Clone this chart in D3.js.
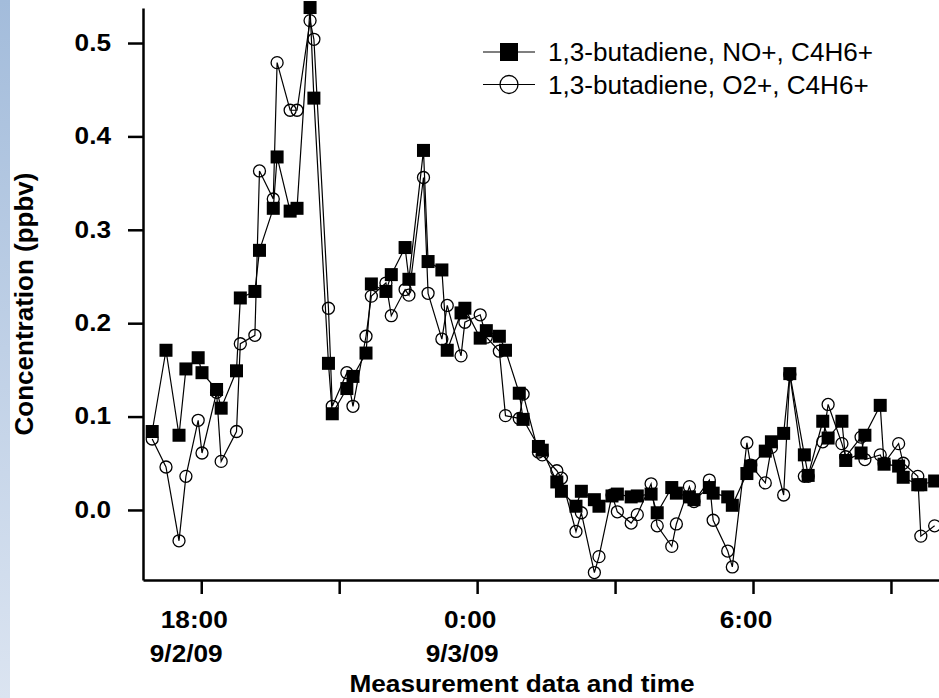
<!DOCTYPE html>
<html>
<head>
<meta charset="utf-8">
<script src="https://cdn.jsdelivr.net/npm/d3@7"></script>
<style>
  html, body { margin: 0; padding: 0; background: #fff; }
  svg { display: block; font-family: "Liberation Sans", Arial, sans-serif; }
</style>
</head>
<body>
<div id="chart"></div>
<script>
// sample times (9/2/09 afternoon through 9/3/09 morning)
const sampleTimes = [
  "16:56","17:14","17:31","17:40","17:56","18:01","18:20","18:26","18:46","18:51",
  "19:10","19:16","19:34","19:39","19:56","20:05","20:22","20:27","20:46","20:51",
  "21:10","21:18","21:35","21:42","22:01","22:08","22:26","22:31","22:50","22:56",
  "23:14","23:21","23:39","23:44","0:04","0:12","0:29","0:37","0:55","1:00",
  "1:20","1:25","1:44","1:50","2:09","2:16","2:33","2:39","2:56","3:03",
  "3:21","3:29","3:47","3:55","4:14","4:20","4:37","4:43","5:03","5:08",
  "5:27","5:33","5:52","5:57","6:16","6:24","6:40","6:48","7:07","7:12",
  "7:31","7:38","7:56","8:01","8:21","8:26","8:46","8:51","9:10","9:16",
  "9:35","9:39","9:57"
];

// 1,3-butadiene, NO+, C4H6+ (ppbv)
const noPlus = [
  0.084,0.171,0.080,0.151,0.163,0.147,0.129,0.109,0.149,0.227,
  0.234,0.278,0.323,0.378,0.320,0.323,0.538,0.441,0.157,0.103,
  0.130,0.143,0.168,0.242,0.234,0.252,0.281,0.247,0.385,0.266,
  0.257,0.171,0.211,0.216,0.184,0.192,0.186,0.171,0.125,0.097,
  0.068,0.064,0.030,0.020,0.004,0.020,0.011,0.004,0.015,0.017,
  0.014,0.015,0.017,-0.003,0.024,0.018,0.014,0.011,0.024,0.018,
  0.014,0.005,0.039,0.047,0.063,0.073,0.082,0.146,0.059,0.037,
  0.095,0.077,0.095,0.053,0.061,0.080,0.112,0.049,0.047,0.035,
  0.027,0.027,0.031
];

// 1,3-butadiene, O2+, C4H6+ (ppbv)
const o2Plus = [
  0.076,0.046,-0.033,0.036,0.096,0.061,0.126,0.052,0.084,0.178,
  0.187,0.363,0.333,0.479,0.428,0.428,0.524,0.504,0.216,0.111,
  0.147,0.111,0.186,0.229,0.243,0.208,0.236,0.230,0.356,0.232,
  0.183,0.219,0.165,0.201,0.209,0.185,0.170,0.101,0.098,0.124,
  0.062,0.059,0.042,0.034,-0.023,-0.003,-0.067,-0.050,0.016,-0.002,
  -0.014,-0.005,0.028,-0.017,-0.039,-0.015,0.025,0.009,0.032,-0.011,
  -0.044,-0.061,0.072,0.048,0.029,0.067,0.016,0.145,0.036,0.036,
  0.073,0.113,0.071,0.057,0.078,0.054,0.059,0.050,0.071,0.050,
  0.036,-0.028,-0.017
];

const seriesLabels = ["1,3-butadiene, NO+, C4H6+", "1,3-butadiene, O2+, C4H6+"];
const yTicks = [0, 0.1, 0.2, 0.3, 0.4, 0.5];
const labelTimes = ["18:00", "0:00", "6:00"];
const labelDates = ["9/2/09", "9/3/09", ""];
const xDomain = ["16:44", "10:04"];

// the original glyphs are a little wider than Liberation Sans
const stretch = 1.14;

// times before noon belong to the next day
function toDate(s) {
  const p = s.split(':').map(Number);
  return new Date(2009, 8, p[0] < 12 ? 3 : 2, p[0], p[1]);
}

const width = 939, height = 698;
const svg = d3.select('#chart').append('svg')
  .attr('width', width)
  .attr('height', height);

// blue strip down the left edge
const grad = svg.append('defs').append('linearGradient')
  .attr('id', 'strip').attr('x1', 0).attr('y1', 0).attr('x2', 0).attr('y2', 1);
grad.append('stop').attr('offset', '0%').attr('stop-color', '#a3bcdb');
grad.append('stop').attr('offset', '100%').attr('stop-color', '#dbe4f1');
svg.append('rect').attr('x', 0).attr('y', 0).attr('width', 10).attr('height', height)
  .attr('fill', 'url(#strip)');

const x = d3.scaleTime()
  .domain(xDomain.map(toDate))
  .range([143, 940]);
const y = d3.scaleLinear()
  .domain([-0.075, 0.5375])
  .range([580, 8]);

// x axis: tick every 3 h, labels only on some
const xAxis = svg.append('g')
  .attr('transform', 'translate(0,580)')
  .call(d3.axisBottom(x).ticks(d3.timeHour.every(3)).tickSize(14).tickSizeOuter(0).tickFormat(''));
xAxis.select('.domain').attr('stroke-width', 2.5);
xAxis.selectAll('.tick line').attr('stroke-width', 2.5);

labelTimes.forEach((t, i) => {
  const px = x(toDate(t));
  svg.append('text')
    .attr('transform', 'translate(' + (px - 7) + ',628) scale(' + stretch + ',1)')
    .attr('text-anchor', 'middle')
    .attr('font-weight', 'bold').attr('font-size', 23)
    .text(t);
  if (labelDates[i]) {
    svg.append('text')
      .attr('transform', 'translate(' + (px - 15) + ',662) scale(' + stretch + ',1)')
      .attr('text-anchor', 'middle')
      .attr('font-weight', 'bold').attr('font-size', 23)
      .text(labelDates[i]);
  }
});

const yAxis = svg.append('g')
  .attr('transform', 'translate(143,0)')
  .call(d3.axisLeft(y).tickValues(yTicks).tickFormat(d3.format('.1f'))
    .tickSize(15).tickSizeOuter(0));
yAxis.select('.domain').attr('stroke-width', 2.5);
yAxis.selectAll('.tick line').attr('stroke-width', 2.5);
yAxis.selectAll('.tick text')
  .attr('x', 0)
  .attr('transform', 'translate(-32,0) scale(' + stretch + ',1)')
  .attr('font-size', 23).attr('font-weight', 'bold')
  .attr('font-family', '"Liberation Sans", Arial, sans-serif').attr('fill', '#000');

// axis titles
svg.append('text')
  .attr('transform', 'translate(33,304) rotate(-90)')
  .attr('text-anchor', 'middle')
  .attr('font-weight', 'bold').attr('font-size', 26)
  .text('Concentration (ppbv)');
svg.append('text')
  .attr('transform', 'translate(522,692) scale(' + stretch + ',1)')
  .attr('text-anchor', 'middle')
  .attr('font-weight', 'bold').attr('font-size', 23)
  .text('Measurement data and time');

const times = sampleTimes.map(toDate);
const line = d3.line().x(d => x(d[0])).y(d => y(d[1]));

// O2+ first so the squares sit on top
const o2Data = times.map((t, i) => [t, o2Plus[i]]);
const noData = times.map((t, i) => [t, noPlus[i]]);

svg.append('path').datum(o2Data)
  .attr('d', line).attr('fill', 'none').attr('stroke', '#000').attr('stroke-width', 1.2);
svg.append('g').selectAll('circle')
  .data(o2Data)
  .enter().append('circle')
  .attr('cx', d => x(d[0])).attr('cy', d => y(d[1])).attr('r', 6)
  .attr('fill', 'none').attr('stroke', '#000').attr('stroke-width', 1.3);

svg.append('path').datum(noData)
  .attr('d', line).attr('fill', 'none').attr('stroke', '#000').attr('stroke-width', 1.2);
svg.append('g').selectAll('rect')
  .data(noData)
  .enter().append('rect')
  .attr('x', d => x(d[0]) - 6.5).attr('y', d => y(d[1]) - 6.5)
  .attr('width', 13).attr('height', 13)
  .attr('fill', '#000');

// legend
const legend = svg.selectAll('.legend')
  .data(seriesLabels)
  .enter().append('g')
  .attr('class', 'legend')
  .attr('transform', (d, i) => 'translate(0,' + (52 + i * 32.5) + ')');

legend.append('line')
  .attr('x1', 483).attr('x2', 535)
  .attr('stroke', '#000').attr('stroke-width', 1.2);
legend.filter((d, i) => i === 0).append('rect')
  .attr('x', 500).attr('y', -9).attr('width', 18).attr('height', 18).attr('fill', '#000');
legend.filter((d, i) => i === 1).append('circle')
  .attr('cx', 509).attr('r', 9)
  .attr('fill', 'none').attr('stroke', '#000').attr('stroke-width', 1.3);
legend.append('text')
  .attr('transform', 'translate(548,9) scale(1.045,1)')
  .attr('font-size', 25)
  .text(d => d);
</script>
</body>
</html>
